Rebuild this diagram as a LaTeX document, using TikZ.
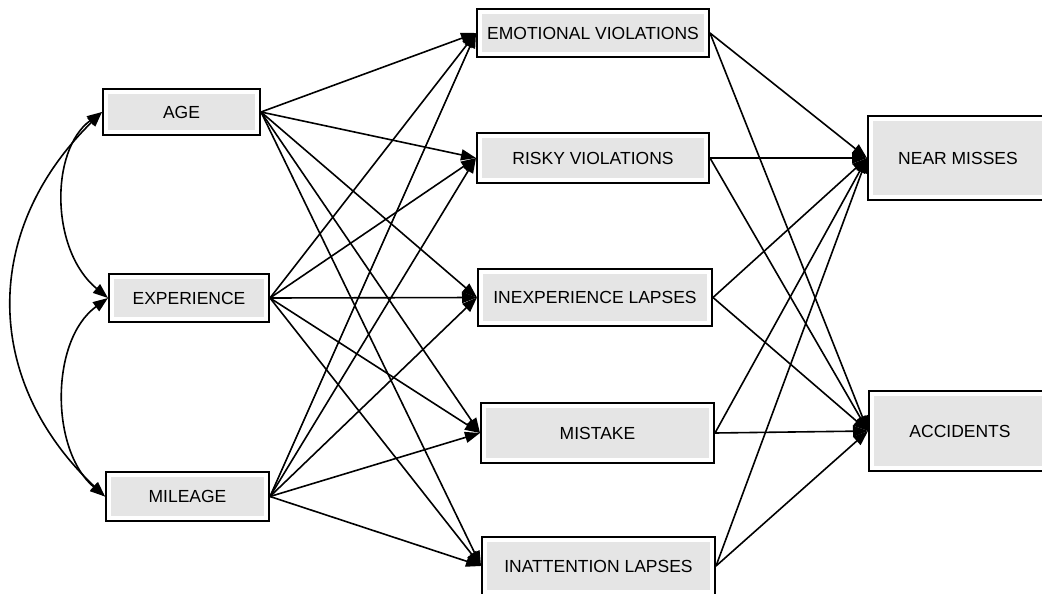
\documentclass[tikz,border=0pt]{standalone}
\usepackage{fontspec}
\setmainfont{Liberation Sans}
\usetikzlibrary{arrows.meta}
\definecolor{boxgray}{RGB}{229,229,229}
\begin{document}
\begin{tikzpicture}[x=1pt,y=-1pt,
  box/.style={draw, line width=2pt, fill=white, inner sep=0pt,
    font=\fontsize{17.5}{20}\selectfont,
    path picture={\fill[boxgray] ([shift={(5pt,-5pt)}]path picture bounding box.north west) rectangle ([shift={(-5pt,5pt)}]path picture bounding box.south east);}},
  arr/.style={line width=1.6pt, -{Triangle[length=15pt,width=11pt]}},
  darr/.style={line width=1.6pt, {Triangle[length=15pt,width=11pt]}-{Triangle[length=15pt,width=11pt]}}
]
\useasboundingbox (0,0) rectangle (1042,594);
% left column
\node[box, minimum width=157pt, minimum height=46pt] (age) at (181.5,112) {AGE};
\node[box, minimum width=160pt, minimum height=48pt] (exp) at (189,298) {EXPERIENCE};
\node[box, minimum width=163pt, minimum height=49pt] (mil) at (187.5,496.5) {MILEAGE};
% middle column
\node[box, minimum width=232pt, minimum height=48pt] (emo) at (593,33) {EMOTIONAL VIOLATIONS};
\node[box, minimum width=232pt, minimum height=50pt] (risk) at (593,158) {RISKY VIOLATIONS};
\node[box, minimum width=234pt, minimum height=57pt] (inexp) at (595,297.5) {INEXPERIENCE LAPSES};
\node[box, minimum width=233pt, minimum height=60pt] (mist) at (597.5,433) {MISTAKE};
\node[box, minimum width=233pt, minimum height=58pt] (inatt) at (598.5,566) {INATTENTION LAPSES};
% right column
\node[box, minimum width=180pt, minimum height=84pt] (near) at (958,158) {NEAR MISSES};
\node[box, minimum width=182pt, minimum height=80pt] (acc) at (960,431) {ACCIDENTS};
% left to middle
\foreach \s in {age,exp,mil}{
  \foreach \t in {emo,risk,inexp,mist,inatt}{
    \draw[arr] (\s.east) -- (\t.west);
  }
}
% middle to right
\foreach \s in {emo,risk,inexp,mist,inatt}{
  \draw[arr] (\s.east) -- (near.west);
  \draw[arr] (\s.east) -- (acc.west);
}
% covariances
\draw[darr] (age.west) .. controls (50,150) and (50,250) .. (exp.west);
\draw[darr] (exp.west) .. controls (50,340) and (50,450) .. (mil.west);
\draw[darr] (age.west) .. controls (-18,230) and (-18,380) .. (mil.west);
\end{tikzpicture}
\end{document}
